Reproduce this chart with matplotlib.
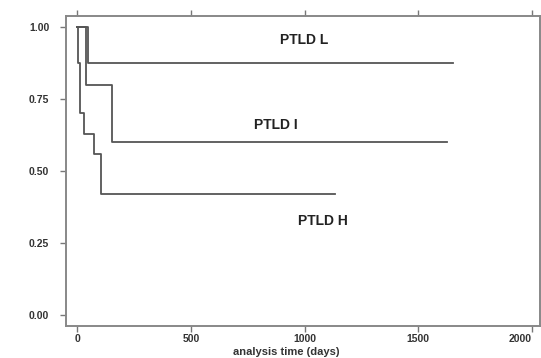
import matplotlib.pyplot as plt

# Kaplan-Meier steps (days, survival)
L_T = [0, 45, 1653]
L_S = [1.0, 0.875, 0.875]
I_T = [0, 38, 152, 1625]
I_S = [1.0, 0.80, 0.60, 0.60]
H_T = [0, 2, 13, 31, 75, 106, 1134]
H_S = [1.0, 0.875, 0.70, 0.63, 0.56, 0.42, 0.42]

LABELS = [("PTLD L", 998, 0.955), ("PTLD I", 875, 0.66), ("PTLD H", 1081, 0.326)]
XTICKS = [0, 500, 1000, 1500, 2000]
YTICKS = [0.0, 0.25, 0.5, 0.75, 1.0]

plt.rcParams["font.family"] = ["Liberation Sans", "DejaVu Sans"]
fig = plt.figure(figsize=(5.41, 3.58), dpi=100)
ax = fig.add_axes([0.122, 0.090, 0.876, 0.865])

for t, s in [(L_T, L_S), (I_T, I_S), (H_T, H_S)]:
    ax.step(t, s, where="post", color="#555555", lw=1.3)

for txt, x, y in LABELS:
    ax.text(x, y, txt, ha="center", va="center", fontsize=10,
            fontweight="bold", color="#222222")

ax.set_xlim(-50, 2035)
ax.set_ylim(-0.037, 1.038)
ax.set_xticks(XTICKS, [str(v) for v in XTICKS])
ax.set_yticks(YTICKS, [f"{v:.2f}" for v in YTICKS])
ax.tick_params(axis="both", labelsize=7.5, colors="#777777", labelcolor="#333333",
               length=4, width=1.0)
ax.tick_params(axis="x", top=True, pad=2)
ax.tick_params(axis="y", pad=8)
for lab in ax.get_xticklabels() + ax.get_yticklabels():
    lab.set_fontweight("bold")
ax.get_xticklabels()[-1].set_horizontalalignment("right")
for sp in ax.spines.values():
    sp.set_color("#888888")
    sp.set_linewidth(1.4)

fig.text(286 / 541, 1 - 352 / 358, "analysis time (days)", ha="center",
         va="center", fontsize=8, fontweight="bold", color="#333333")

fig.savefig("out.png", dpi=100)
